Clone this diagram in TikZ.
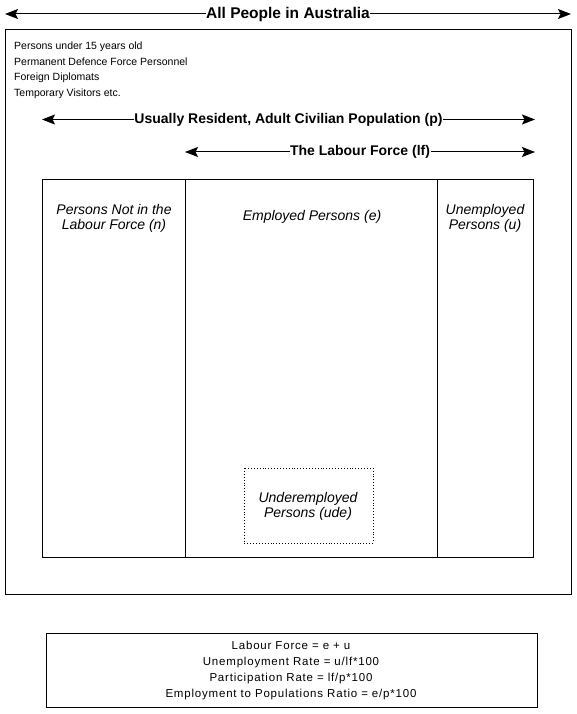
\documentclass[tikz,border=0pt]{standalone}
\usepackage{fontspec}
\setmainfont{Liberation Sans}
\usetikzlibrary{arrows.meta}

\begin{document}
\begin{tikzpicture}[x=1pt, y=-1pt,
        tip/.tip={Stealth[length=13pt, width=10pt, inset=2.5pt]},
        span/.style={tip-tip, line width=1pt},
        spanlabel/.style={fill=white, inner sep=0.5pt, font=\fontsize{14}{16}\selectfont\bfseries},
        group/.style={align=center, inner sep=0pt, font=\fontsize{14}{15.5}\selectfont\itshape}]
        \useasboundingbox (0, 0) rectangle (576, 714);

        % boxes
        \draw[line width=1pt] (5, 30) rectangle (571, 594);
        \draw[line width=1pt] (42, 180) rectangle (533, 557);
        \draw[line width=1pt] (185, 180) -- (185, 557);
        \draw[line width=1pt] (437, 180) -- (437, 557);
        \draw[line width=0.9pt, dotted] (244, 468) rectangle (373, 543);
        \draw[line width=1pt] (46, 633) rectangle (537, 707);

        % spans
        \coordinate (allL) at (5, 14);
        \coordinate (allR) at (571, 14);
        \coordinate (popL) at (42, 119.5);
        \coordinate (popR) at (535, 119.5);
        \coordinate (lfL) at (185, 152);
        \coordinate (lfR) at (535, 152);
        \draw[span] (allL) -- (allR) node[midway, spanlabel, font=\fontsize{15.5}{17}\selectfont\bfseries] (all) {All People in Australia};
        \draw[span] (popL) -- (popR) node[midway, spanlabel] (pop) {Usually Resident, Adult Civilian Population (p)};
        \draw[span] (lfL) -- (lfR) node[midway, spanlabel] (lf) {The Labour Force (lf)};

        % groups
        \node[anchor=north west, align=left, inner sep=0pt, font=\fontsize{10.5}{15.5}\selectfont] (excluded) at (14, 42)
            {Persons under 15 years old\\Permanent Defence Force Personnel\\Foreign Diplomats\\Temporary Visitors etc.};
        \node[group] (n) at (114, 218.5) {Persons Not in the\\Labour Force (n)};
        \node[group] (e) at (312, 217) {Employed Persons (e)};
        \node[group] (u) at (485, 218.5) {Unemployed\\Persons (u)};
        \node[group] (ude) at (308, 506.5) {Underemployed\\Persons (ude)};

        % formulas
        \node[align=center, inner sep=0pt, font=\fontsize{11.5}{16}\selectfont\addfontfeature{LetterSpace=7}] (rates) at (291, 671)
            {Labour Force = e + u\\Unemployment Rate = u/lf*100\\Participation Rate = lf/p*100\\Employment to Populations Ratio = e/p*100};
    \end{tikzpicture}
\end{document}
